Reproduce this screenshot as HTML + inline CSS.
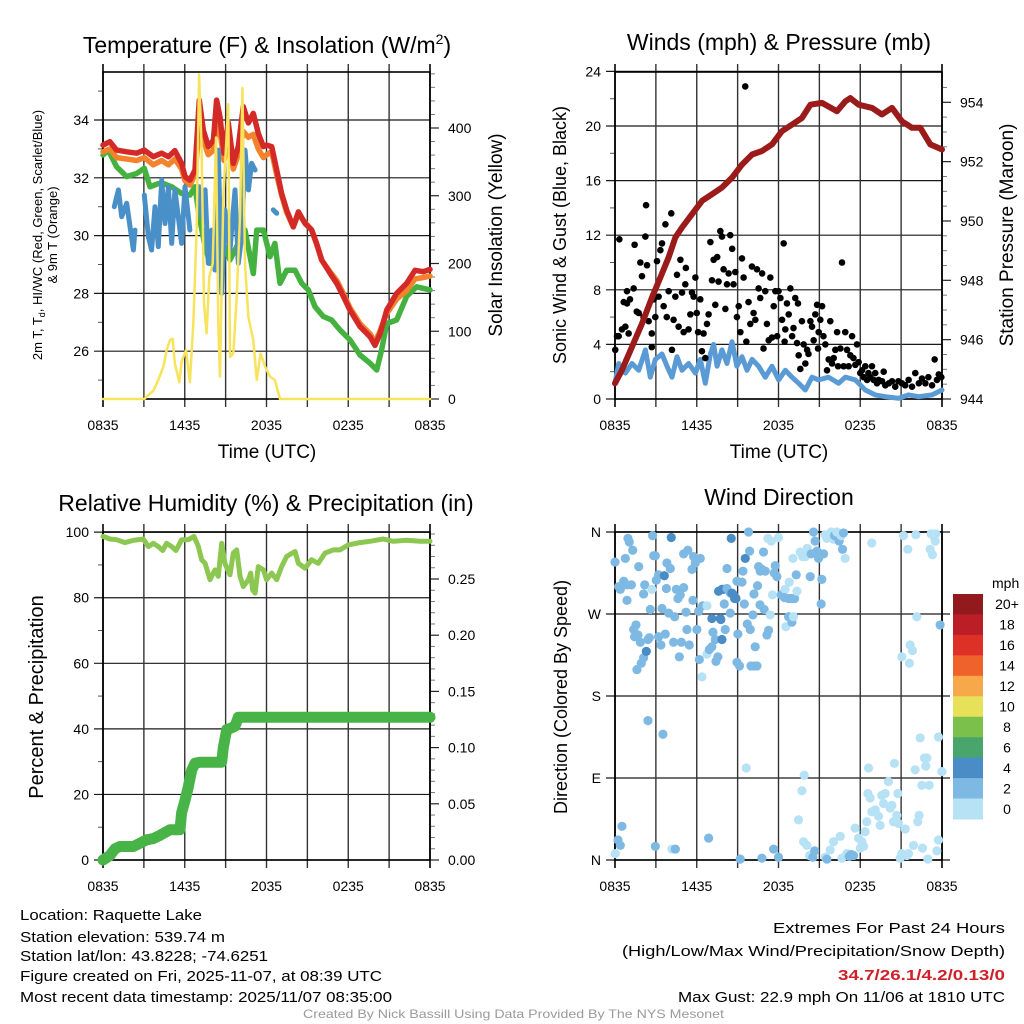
<!DOCTYPE html>
<html><head><meta charset="utf-8">
<style>
html,body{margin:0;padding:0;background:#fff;}
svg{display:block;font-family:"Liberation Sans",sans-serif;}
</style></head>
<body>
<svg id="fig" width="1024" height="1024" viewBox="0 0 1024 1024" xmlns="http://www.w3.org/2000/svg">
<rect x="0" y="0" width="1024" height="1024" fill="#fff"/>
<text x="267" y="53" font-size="23" text-anchor="middle">Temperature (F) &amp; Insolation (W/m<tspan font-size="14" dy="-9">2</tspan><tspan dy="9">)</tspan></text>
<text x="779" y="50" font-size="23" text-anchor="middle">Winds (mph) &amp; Pressure (mb)</text>
<text x="266" y="511" font-size="23" text-anchor="middle">Relative Humidity (%) &amp; Precipitation (in)</text>
<text x="779" y="505" font-size="23" text-anchor="middle">Wind Direction</text>

<text x="267" y="458" font-size="19" text-anchor="middle">Time (UTC)</text>
<text x="779" y="458" font-size="19" text-anchor="middle">Time (UTC)</text>

<text transform="translate(42,235) rotate(-90)" font-size="13" text-anchor="middle">2m T, T<tspan font-size="9" dy="3">d</tspan><tspan dy="-3">, HI/WC (Red, Green, Scarlet/Blue)</tspan></text>
<text transform="translate(57,235) rotate(-90)" font-size="13" text-anchor="middle">&amp; 9m T (Orange)</text>
<text transform="translate(502,235) rotate(-90)" font-size="19" text-anchor="middle">Solar Insolation (Yellow)</text>
<text transform="translate(566,235) rotate(-90)" font-size="18" text-anchor="middle">Sonic Wind &amp; Gust (Blue, Black)</text>
<text transform="translate(1013,235) rotate(-90)" font-size="19" text-anchor="middle">Station Pressure (Maroon)</text>
<text transform="translate(43,697) rotate(-90)" font-size="20" text-anchor="middle">Percent &amp; Precipitation</text>
<text transform="translate(567,697) rotate(-90)" font-size="18" text-anchor="middle">Direction (Colored By Speed)</text>

<g id="p1"></g>
<g id="p2"></g>
<g id="p3"></g>
<g id="p4"></g>
<g id="cbar"></g>

<g font-size="15">
<text x="20" y="920" textLength="182" lengthAdjust="spacingAndGlyphs">Location: Raquette Lake</text>
<text x="20" y="942" textLength="205" lengthAdjust="spacingAndGlyphs">Station elevation: 539.74 m</text>
<text x="20" y="961" textLength="248" lengthAdjust="spacingAndGlyphs">Station lat/lon: 43.8228; -74.6251</text>
<text x="20" y="981" textLength="362" lengthAdjust="spacingAndGlyphs">Figure created on Fri, 2025-11-07, at 08:39 UTC</text>
<text x="20" y="1002" textLength="372" lengthAdjust="spacingAndGlyphs">Most recent data timestamp: 2025/11/07 08:35:00</text>
</g>
<g font-size="15" text-anchor="end">
<text x="1005" y="933" textLength="232" lengthAdjust="spacingAndGlyphs">Extremes For Past 24 Hours</text>
<text x="1005" y="956" textLength="383" lengthAdjust="spacingAndGlyphs">(High/Low/Max Wind/Precipitation/Snow Depth)</text>
<text x="1005" y="980" textLength="167" lengthAdjust="spacingAndGlyphs" fill="#d0202a" font-weight="bold">34.7/26.1/4.2/0.13/0</text>
<text x="1005" y="1002" textLength="327" lengthAdjust="spacingAndGlyphs">Max Gust: 22.9 mph On 11/06 at 1810 UTC</text>
</g>
<text x="303" y="1018" font-size="12" fill="#9a9a9a" textLength="421" lengthAdjust="spacingAndGlyphs">Created By Nick Bassill Using Data Provided By The NYS Mesonet</text>
</svg>
<script>
// ---------- data ----------
const timeTickLabels = ["0835","1435","2035","0235","0835"];
const timeTickHours = [0,6,12,18,24];

const redTimes = [0,0.51,1.0,1.74,2.47,3.03,3.69,4.3,4.8,5.28,5.77,6.02,6.38,6.75,7.07,7.36,7.73,8.1,8.34,8.59,8.88,9.2,9.56,9.93,10.3,10.67,11.03,11.4,11.77,12.01,12.38,12.75,13.11,13.48,13.97,14.34,14.83,15.31,15.68,16.05,16.66,17.15,17.64,18.13,18.86,19.6,19.96,20.33,20.82,21.55,22.29,22.9,23.51,24];
const redTemp = [33.13,33.25,32.96,32.9,32.85,32.96,32.73,32.85,32.73,32.94,32.5,32.04,31.92,32.27,34.69,33.65,33.08,33.3,34.69,34.1,32.85,33.9,32.5,33.08,34.46,33.9,34.23,33.54,33.08,33.13,33.08,32.27,31.46,30.88,30.3,30.82,30.42,30.2,29.73,29.16,28.7,28.35,27.9,27.42,26.85,26.5,26.2,26.6,27.42,28.0,28.35,28.8,28.75,28.83];
const orangeTemp = [32.9,33.0,32.7,32.65,32.6,32.7,32.45,32.6,32.45,32.65,32.3,31.9,31.75,32.1,33.8,33.3,32.8,32.95,33.9,33.6,32.6,33.4,32.3,32.8,33.6,33.4,33.5,33.0,32.7,32.8,32.9,32.1,31.4,30.8,30.3,30.75,30.45,30.2,29.7,29.15,28.75,28.45,28.0,27.5,26.95,26.6,26.3,26.7,27.3,27.8,28.1,28.5,28.55,28.6];
const greenTimes = [0,0.39,1.0,1.74,2.47,3.03,3.45,4.06,4.43,5.04,5.77,6.38,6.75,7.07,7.49,7.85,8.34,8.83,9.32,10.42,11.03,11.28,11.77,12.26,12.62,12.99,13.48,14.09,14.58,15.07,15.56,16.17,16.78,17.4,18.13,18.86,19.6,20.09,20.45,20.82,21.55,22.29,23.02,24];
const greenDew = [32.79,32.96,32.38,32.04,32.15,32.33,31.69,31.8,31.8,31.69,31.46,31.4,31.69,30.65,29.62,29.04,30.19,29.73,29.16,30.19,28.69,30.19,30.19,29.27,29.73,28.35,28.8,28.8,28.35,28.12,27.54,27.2,27.08,26.73,26.39,25.87,25.58,25.35,26.04,26.96,27.08,27.9,28.23,28.12];
const blueTimes = [0.83,1.13,1.37,1.74,1.98,2.23,2.35,null,3.03,3.33,3.57,3.82,4.06,4.31,4.55,4.8,5.04,5.28,5.53,5.77,6.02,6.38,null,7.07,7.24,7.49,7.73,7.98,8.22,8.46,8.71,8.95,9.32,9.69,9.93,10.18,10.42,10.67,10.91,11.16,null,12.5,12.75];
const blueTemp = [31.0,31.58,30.65,31.12,30.31,29.5,30.19,null,31.4,29.96,29.5,31.0,29.62,31.92,30.42,31.69,29.73,31.58,30.65,29.73,31.69,30.19,null,31.69,30.65,31.58,29.04,30.19,28.81,32.96,28.0,30.89,29.5,31.58,29.04,29.96,32.96,31.58,32.5,32.27,null,30.89,30.77];
const solarTimes = [0,3.03,3.33,3.69,4.06,4.43,4.67,4.92,5.11,5.28,5.6,5.77,6.09,6.38,6.63,6.87,7.05,7.24,7.41,7.6,7.8,8.05,8.29,8.46,8.59,8.83,9.2,9.32,9.56,9.81,10.06,10.23,10.42,10.67,11.03,11.28,11.57,11.89,12.26,12.62,12.99,24];
const solarVals = [0,0,6,12,28,48,72,87,89,52,25,55,72,25,111,248,479,371,141,97,180,200,386,111,33,298,435,62,67,150,273,459,200,121,87,28,67,48,33,28,0,0];
const tempTicks = [26,28,30,32,34];
const tempMinor = [25,27,29,31,33,35];
const solarTicks = [0,100,200,300,400];

const pressTimes = [0,0.51,1.25,1.98,2.72,3.33,3.94,4.43,4.92,5.65,6.39,7.12,7.85,8.59,9.32,10.06,10.79,11.52,12.26,12.99,13.72,14.34,15.19,16.29,16.9,17.27,17.88,18.86,19.59,20.33,21.06,21.8,22.41,23.14,24];
const pressVals = [944.53,944.97,945.76,946.54,947.43,948.1,948.78,949.45,949.78,950.23,950.68,950.9,951.13,951.46,951.9,952.24,952.36,952.58,953.03,953.25,953.47,953.92,953.98,953.7,954.03,954.14,953.92,953.81,953.59,953.81,953.36,953.14,953.14,952.58,952.41];
const windTimes = [0,0.27,0.76,1.25,1.74,2.23,2.59,2.96,3.45,3.82,4.18,4.55,4.92,5.41,5.9,6.26,6.63,7.0,7.24,7.49,7.85,8.22,8.59,8.95,9.32,9.69,10.06,10.54,11.03,11.52,12.01,12.5,12.99,13.48,13.97,14.46,14.95,15.68,16.41,16.9,17.64,18.37,19.1,19.84,20.82,21.55,22.29,23.27,24];
const windVals = [1.15,2.6,1.9,2.6,2.1,3.6,1.6,2.9,3.3,2.4,1.6,3.1,2.1,2.6,1.9,2.9,1.15,3.3,4.0,2.4,3.6,2.6,4.2,2.4,3.1,2.1,2.9,2.4,1.6,2.4,1.4,2.1,1.6,1.15,0.66,1.6,1.4,1.6,1.15,1.6,1.4,0.66,0.3,0.17,0.05,0.3,0.17,0.3,0.66];
const gustTimes = [0.02,0.15,0.32,0.27,0.51,0.64,0.88,1.1,0.76,1.0,0.88,1.37,1.44,1.6,1.74,1.86,1.98,2.1,2.23,2.28,2.35,2.47,2.7,2.7,2.84,2.96,3.08,3.2,3.33,3.45,3.57,3.7,3.8,3.94,4.13,4.18,4.3,4.43,4.55,4.67,4.8,4.92,5.04,5.16,5.2,5.4,5.53,5.65,5.77,5.9,6.0,6.1,6.26,6.38,6.5,6.63,6.75,6.87,7.0,7.12,7.24,7.36,7.5,7.6,7.73,7.85,7.97,8.1,8.22,8.34,8.46,8.6,8.7,8.83,8.95,9.08,9.2,9.32,9.44,9.56,9.64,9.8,9.93,10.05,10.17,10.3,10.42,10.54,10.66,10.8,10.9,11.03,11.15,11.28,11.4,11.52,11.65,11.77,11.9,12.0,12.14,12.26,12.38,12.45,12.5,12.62,12.75,12.87,13.0,13.1,13.23,13.36,13.43,13.48,13.6,13.72,13.85,13.97,14.1,14.2,14.34,14.46,14.58,14.7,14.83,14.9,14.95,15.07,15.2,15.3,15.44,15.56,15.68,15.8,15.93,16.05,16.17,16.3,16.37,16.54,16.66,16.78,16.9,17.03,17.15,17.27,17.4,17.5,17.64,17.76,17.88,18.0,18.13,18.25,18.37,18.5,18.6,18.74,18.86,18.98,19.1,19.23,19.35,19.6,19.72,19.84,20.1,20.33,20.57,20.8,21.06,21.3,21.55,21.8,22.04,22.3,22.53,22.78,23.0,23.27,23.46,23.63,23.76,23.95];
const gustVals = [3.6,4.6,11.7,4.6,5.1,7.1,7.0,7.3,5.3,4.8,7.9,8.1,11.3,6.4,6.3,10.0,9.0,6.0,11.9,14.2,9.8,5.7,3.8,4.8,7.3,6.0,10.1,7.5,10.9,11.4,6.8,12.8,6.0,7.9,13.6,3.6,5.8,7.5,9.1,5.3,10.2,7.8,4.9,8.4,9.6,5.1,6.2,7.8,7.5,8.9,6.3,4.9,7.3,3.5,4.8,3.0,5.5,6.2,11.5,8.7,10.2,6.9,10.4,8.6,12.3,11.9,9.5,6.6,8.4,9.2,12.0,11.0,8.4,9.3,6.0,6.8,4.9,10.3,8.9,22.9,4.2,7.1,5.5,9.7,6.3,5.8,9.5,8.1,7.4,9.2,3.7,7.9,5.5,4.3,8.9,4.5,6.8,7.9,4.6,7.9,7.4,5.8,11.4,4.2,5.1,7.0,6.2,8.1,4.6,5.2,7.4,4.1,7.0,3.2,2.2,5.7,4.0,2.6,3.6,3.3,5.7,5.3,4.3,6.2,6.9,3.7,4.9,5.8,6.8,4.6,4.0,2.1,2.9,5.7,2.6,3.0,3.6,4.9,2.4,3.7,10.0,2.4,4.9,3.6,2.4,3.2,4.6,3.0,2.5,4.0,2.7,1.9,2.1,1.6,2.4,1.4,1.9,1.6,2.4,1.4,1.9,1.15,1.4,1.3,2.0,1.0,1.15,1.3,0.9,1.3,1.15,1.0,1.4,0.9,1.9,1.15,1.5,1.15,1.6,1.0,2.9,1.4,1.8,1.6];
const windTicks = [0,4,8,12,16,20,24];
const windMinor = [2,6,10,14,18,22];
const pressTicks = [944,946,948,950,952,954];

const rhTimes = [0,0.51,1.0,1.61,2.23,2.96,3.33,3.69,4.06,4.38,4.67,5.04,5.36,5.77,6.26,6.68,7.0,7.24,7.49,7.85,8.22,8.46,8.71,8.95,9.32,9.56,9.81,10.06,10.3,10.67,10.84,10.98,11.16,11.4,11.77,12.01,12.38,12.75,13.11,13.48,14.09,14.34,14.83,15.31,15.8,16.29,16.9,17.39,18.0,18.86,19.59,20.57,21.31,22.29,23.27,24];
const rhVals = [98.7,97.9,97.7,96.8,97.5,97.9,95.6,96.6,95.6,94.4,96.6,95.6,94.4,97.7,97.7,98.7,95.6,91.6,90.5,85.5,88.5,86.5,96.6,90.5,87.0,93.6,94.6,86.5,83.4,85.5,87.5,82.4,81.4,89.5,88.5,85.5,87.5,85.5,89.5,92.6,94.1,90.5,89.0,91.6,90.5,93.6,94.6,94.6,96.1,96.8,97.2,97.9,97.2,97.5,97.2,97.2];
const precipTimes = [0,0.51,0.88,1.25,2.23,2.72,3.2,3.69,4.18,4.92,5.65,5.77,6.02,6.26,6.51,6.75,7.12,8.71,8.83,9.08,9.32,9.69,9.93,24];
const precipVals = [0,0.004,0.010,0.012,0.012,0.015,0.018,0.019,0.022,0.027,0.027,0.042,0.053,0.065,0.08,0.086,0.087,0.087,0.10,0.116,0.117,0.119,0.127,0.127];
const rhTicks = [0,20,40,60,80,100];
const rhMinor = [10,30,50,70,90];
const precipTicks = [0,0.05,0.10,0.15,0.20,0.25];
const precipTickLabels = ["0.00","0.05","0.10","0.15","0.20","0.25"];

const dirTicks = [0,90,180,270,360];
const dirTickLabels = ["N","E","S","W","N"];
const dirTimes = [0,0.27,0.39,0.64,0.88,1.2,0.76,0.95,1.05,1.3,0.88,1.74,2.18,2.1,2.71,2.59,2.76,2.84,2.96,3.03,3.2,3.45,3.62,3.77,3.81,4.06,4.13,3.94,4.38,4.5,4.62,4.79,5.04,5.21,5.04,5.35,5.65,5.77,5.89,6.26,5.72,6.14,6.43,6.75,1.37,1.54,1.44,1.69,1.86,2.1,1.93,1.61,2.3,2.42,2.52,3.2,3.37,3.69,4.3,4.87,4.72,5.45,5.28,6.01,6.19,6.38,6.75,6.92,7.11,7.36,7.19,7.41,7.55,7.11,7.73,7.77,7.85,8.09,7.6,7.85,7.97,8.22,8.46,8.58,8.7,8.78,8.88,8.95,9.32,8.02,8.46,8.22,8.53,9.02,8.95,9.14,9.39,9.49,9.56,9.8,9.88,9.71,9.93,10.12,10.2,10.29,10.46,9.98,10.24,10.42,10.54,10.66,10.78,10.9,11.03,10.64,10.95,11.15,11.27,11.39,11.22,11.47,11.76,11.69,11.88,12.0,11.56,12.2,12.49,12.44,12.74,12.93,13.18,12.54,12.74,12.98,13.1,13.35,12.79,13.3,13.06,13.59,13.77,13.96,14.11,14.33,14.4,14.57,14.69,14.82,14.94,15.06,15.18,15.31,15.13,15.43,15.55,15.67,15.87,16.04,16.11,16.28,16.45,16.6,16.77,16.7,16.89,18.85,21.17,21.49,22.08,23.13,23.3,23.2,23.37,23.5,23.55,22.15,23.86,21.05,21.66,21.83,21.61,
 2.42,3.52,9.63,13.89,13.72,13.47,6.87,2.96,4.18,4.43,0.51,0.22,0.39,0.02,9.19,10.78,11.64,12.0,13.84,14.08,14.28,14.52,14.65,15.43,15.55,15.79,16.04,16.53,16.65,17.02,17.19,17.33,17.51,17.63,17.87,18.0,18.12,18.24,18.36,18.48,18.56,18.73,18.61,18.85,19.1,19.34,19.46,19.58,19.71,19.83,20.07,20.2,20.32,20.51,20.44,20.68,20.76,20.81,20.93,21.05,21.3,21.42,21.54,21.91,22.03,22.22,22.32,22.4,22.52,22.57,22.71,22.81,22.89,23.06,22.96,23.62,23.74,23.74,23.99];
const dirVals = [327,300,297,306,302,302,331,353,349,340,285,322,302,292,297,275,356,334,334,307,313,276,312,298,326,320,354,271,267,297,287,291,299,272,336,340,319,333,326,331,285,273,279,279,253,258,245,247,239,222,216,209,229,242,244,245,236,248,239,239,223,236,253,253,220,201,226,231,234,242,250,218,223,265,265,264,242,253,295,297,297,298,293,293,291,287,287,306,305,281,271,320,353,248,217,213,317,281,331,360,339,259,253,269,292,234,301,213,213,213,322,317,319,338,317,280,275,247,252,269,353,350,323,315,311,354,291,291,297,288,287,287,287,256,267,261,267,295,305,313,331,338,333,333,342,311,336,360,350,339,331,336,308,336,281,357,353,357,360,352,356,360,350,356,359,341,331,348,356,341,357,341,335,358,356,350,358,267,258,223,236,230,216,
 153,138,101,93,76,44,24,15,12,12,37,22,16,7,1,2,12,3,20,16,5,3,10,3,1,11,20,26,2,7,4,6,5,35,24,13,20,15,31,42,73,68,101,53,55,48,38,71,62,73,86,57,60,106,42,49,73,40,2,7,34,5,7,16,99,42,49,134,82,13,112,103,112,82,1,10,135,22,97];
const dirSpeeds = [3,3,3,3,3,3,3,3,3,3,3,3,3,3,1,3,3,3,3,3,3,3,5,3,3,3,5,3,3,3,3,3,3,3,3,3,3,3,3,3,3,3,3,1,3,3,3,3,3,3,3,3,5,3,3,3,3,3,3,3,3,3,3,3,3,1,1,3,3,3,3,3,3,5,5,5,5,3,5,5,5,3,3,5,5,5,5,3,3,3,3,3,5,3,3,3,3,3,5,3,3,3,3,3,3,3,3,3,3,3,3,3,3,3,3,3,3,3,3,1,1,1,3,3,3,1,1,3,1,3,3,3,3,1,3,3,1,1,1,3,1,1,1,1,1,3,3,3,3,3,3,3,3,3,3,1,1,1,1,1,3,1,3,1,3,3,1,1,1,1,1,1,1,1,1,1,1,1,3,1,1,1,1,
 3,3,1,1,1,1,3,3,1,3,3,3,3,1,3,3,3,3,1,1,1,3,3,1,3,1,1,1,1,1,3,3,3,1,1,1,1,1,1,1,1,1,1,1,1,1,1,1,1,1,1,1,1,1,1,1,1,1,1,1,1,1,1,1,1,1,1,1,1,1,1,1,1,1,1,1,1,1,1];
const barLabels = ["20+","18","16","14","12","10","8","6","4","2","0"];
const barColors = ["#921a1d","#bb1e26","#dd3127","#f0622b","#f7a94a","#e7e15a","#7cc04c","#4aa56c","#4a8dc6","#7eb9e4","#b7e2f6"];

// ---------- helpers ----------
const NS="http://www.w3.org/2000/svg";
const PW=327;
function mk(tag, attrs, parent){const e=document.createElementNS(NS,tag);for(const k in attrs)e.setAttribute(k,attrs[k]);parent.appendChild(e);return e;}
function xAt(t,x0){return x0+t*PW/24;}
function speedColor(s){const bin=Math.min(10,Math.floor(s/2));return barColors[10-bin];}

function drawAxes(g,x0,top,bot,opt){
  const x1=x0+PW;
  opt.gridVals.forEach(v=>{
    const y=opt.yL(v);
    const ln=mk('line',{x1:x0-9,x2:x1+(opt.extRight||0),y1:y,y2:y,stroke:'#1a1a1a','stroke-width':1.2},g);
    
    
  });
  for(let h=0;h<=24;h+=3){
    const x=xAt(h,x0);
    const ln=mk('line',{x1:x,x2:x,y1:top-8,y2:bot+8,stroke:(h===0||h===24)?'#000':'#333','stroke-width':(h===0||h===24)?1.6:1.4},g);
    
    
  }
  (opt.leftMinor||[]).forEach(v=>{
    const y=opt.yL(v);
    const tk=mk('line',{x1:x0-5,x2:x0,y1:y,y2:y,stroke:'#555','stroke-width':1},g);
    
    
  });
  opt.leftTicks.forEach((v,i)=>{
    const tx=mk('text',{x:x0-14,y:opt.yL(v)+5,'font-size':14,'text-anchor':'end'},g);
    tx.textContent=opt.leftLabels?opt.leftLabels[i]:String(v);
    
    
  });
  if(opt.yR){
    (opt.rightMinor||[]).forEach(v=>{
      const y=opt.yR(v);
      const tk=mk('line',{x1:x1,x2:x1+5,y1:y,y2:y,stroke:'#777','stroke-width':1},g);
      
      
    });
    opt.rightTicks.forEach((v,i)=>{
      const y=opt.yR(v);
      const tk=mk('line',{x1:x1,x2:x1+9,y1:y,y2:y,stroke:'#222','stroke-width':1.2},g);
      
      
      const tx=mk('text',{x:x1+18,y:y+5,'font-size':14},g);
      tx.textContent=opt.rightLabels?opt.rightLabels[i]:String(v);
      
      
    });
  }
  timeTickHours.forEach((h,i)=>{
    const tx=mk('text',{x:xAt(h,x0),y:bot+31,'font-size':14,'text-anchor':'middle'},g);
    tx.textContent=timeTickLabels[i];
    
    
  });
  const fr=mk('rect',{x:x0,y:top,width:PW,height:bot-top,fill:'none',stroke:'#000','stroke-width':1.6},g);
  
  
}
function pathD(ts,vs,x0,yf){
  let d='',pen=false;
  for(let i=0;i<ts.length;i++){
    if(ts[i]===null||vs[i]===null){pen=false;continue;}
    d+=(pen?'L':'M')+xAt(ts[i],x0).toFixed(1)+','+yf(vs[i]).toFixed(1);
    pen=true;
  }
  return d;
}
function drawLine(g,ts,vs,x0,yf,color,w,name){
  const p=mk('path',{d:pathD(ts,vs,x0,yf),fill:'none',stroke:color,'stroke-width':w,'stroke-linejoin':'round','stroke-linecap':'round'},g);
  
  
  return p;
}

// ---------- panel 1 ----------
(function(){
  const g=document.getElementById('p1');const x0=103,top=72,bot=399;
  const yT=v=>120+(34-v)*28.9;
  const yS=v=>399-v*0.6775;
  const sMinor=[];for(let v=20;v<=480;v+=20){if(v%100)sMinor.push(v);}
  drawAxes(g,x0,top,bot,{yL:yT,gridVals:tempTicks,leftTicks:tempTicks,leftMinor:tempMinor,yR:yS,rightTicks:solarTicks,rightMinor:sMinor});
  drawLine(g,greenTimes,greenDew,x0,yT,'#45b240',5.5,'dewpoint-line');
  drawLine(g,redTimes,orangeTemp,x0,yT,'#f3822d',5.5,'temp-9m-line');
  drawLine(g,redTimes,redTemp,x0,yT,'#d42a27',5.5,'temp-2m-line');
  drawLine(g,blueTimes,blueTemp,x0,yT,'#4a90c8',5,'windchill-line');
  drawLine(g,solarTimes,solarVals,x0,yS,'#f8e35c',2.5,'solar-insolation-line');
})();

// ---------- panel 2 ----------
(function(){
  const g=document.getElementById('p2');const x0=615,top=72,bot=399;
  const yW=v=>399-v*13.65;
  const yP=p=>399-(p-944)*29.67;
  const pMinor=[];for(let p=944.5;p<955;p+=0.5){if(Math.abs(p-Math.round(p/2)*2)>0.01)pMinor.push(p);}
  drawAxes(g,x0,top,bot,{yL:yW,gridVals:windTicks,leftTicks:windTicks,leftMinor:windMinor,yR:yP,rightTicks:pressTicks,rightMinor:pMinor});
  drawLine(g,windTimes,windVals,x0,yW,'#5b9bd5',5,'sonic-wind-line');
  for(let i=0;i<gustTimes.length;i++){
    const c=mk('circle',{cx:xAt(gustTimes[i],x0),cy:yW(gustVals[i]),r:3.3,fill:'#000'},g);
    
    
  }
  drawLine(g,pressTimes,pressVals,x0,yP,'#9b1b1b',6,'pressure-line');
})();

// ---------- panel 3 ----------
(function(){
  const g=document.getElementById('p3');const x0=103,top=532,bot=860;
  const yR=v=>860-v*3.2785;
  const yPr=v=>860-v*1124;
  const prMinor=[];for(let i=1;i<=29;i++){if(i%5)prMinor.push(i/100);}
  drawAxes(g,x0,top,bot,{yL:yR,gridVals:rhTicks,leftTicks:rhTicks,leftMinor:rhMinor,yR:yPr,rightTicks:precipTicks,rightLabels:precipTickLabels,rightMinor:prMinor});
  drawLine(g,rhTimes,rhVals,x0,yR,'#8cc751',5,'relative-humidity-line');
  drawLine(g,precipTimes,precipVals,x0,yPr,'#48b447',11,'precipitation-line');
})();

// ---------- panel 4 ----------
(function(){
  const g=document.getElementById('p4');const x0=615,top=532,bot=860;
  const yD=d=>860-d*0.9111;
  drawAxes(g,x0,top,bot,{yL:yD,gridVals:dirTicks,leftTicks:dirTicks,leftLabels:dirTickLabels,extRight:8});
  for(let i=0;i<dirTimes.length;i++){
    const c=mk('circle',{cx:xAt(dirTimes[i],x0),cy:yD(dirVals[i]),r:4.6,fill:speedColor(dirSpeeds[i])},g);
    
    
  }
  const cb=document.getElementById('cbar');
  const h=(819-594)/barLabels.length;
  barLabels.forEach((lab,i)=>{
    const r=mk('rect',{x:953,y:594+i*h,width:30,height:h+0.5,fill:barColors[i]},cb);
    
    
    const t=mk('text',{x:1007,y:594+i*h+h/2+5,'font-size':14,'text-anchor':'middle'},cb);
    t.textContent=lab;
    
    
  });
  const u=mk('text',{x:992,y:588,'font-size':14},cb);
  u.textContent='mph';
  
  
})();
</script>
</body></html>
